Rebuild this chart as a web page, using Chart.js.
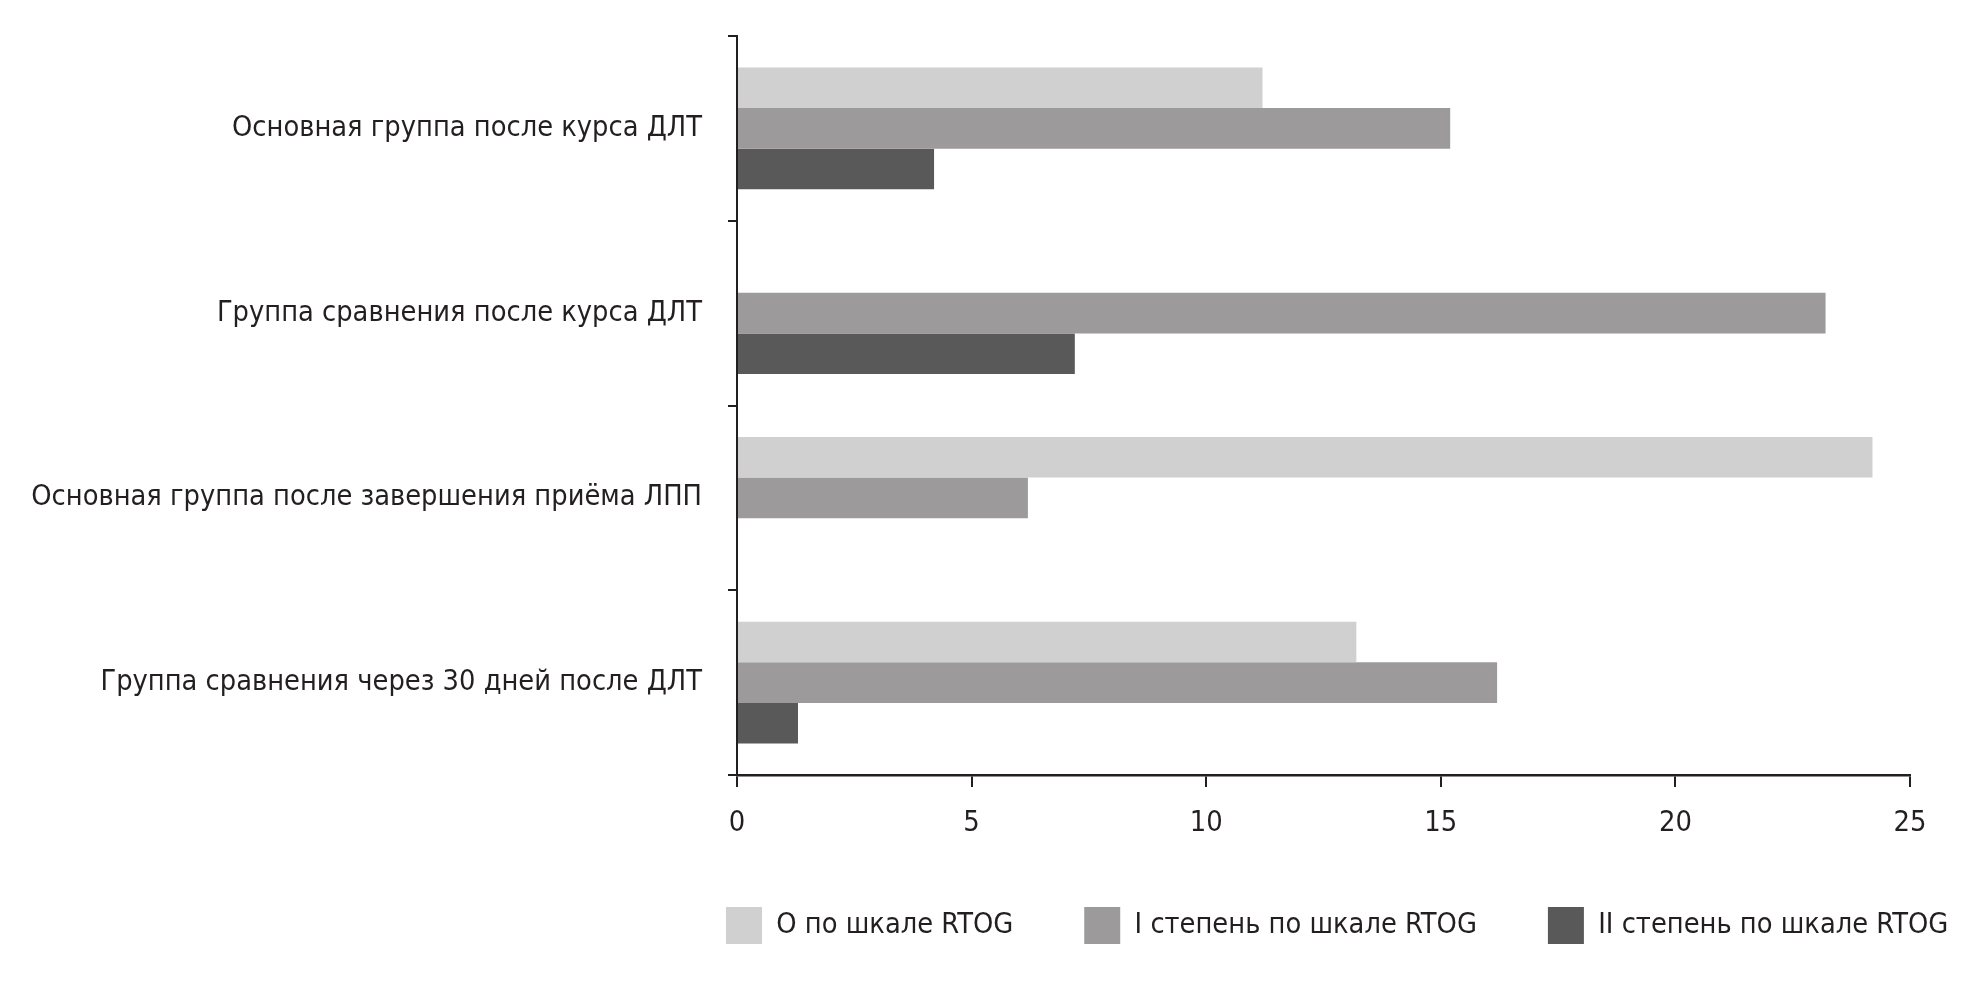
<!DOCTYPE html>
<html>
<head>
<meta charset="utf-8">
<script src="https://cdn.jsdelivr.net/npm/chart.js@4.4.1/dist/chart.umd.min.js"></script>
<style>
  html, body { margin: 0; padding: 0; background: #ffffff; }
  #wrap { width: 1976px; height: 986px; position: relative; }
</style>
</head>
<body>
<div id="wrap"><canvas id="c" width="1976" height="986"></canvas></div>
<script>
const categories = [
  'Основная группа после курса ДЛТ',
  'Группа сравнения после курса ДЛТ',
  'Основная группа после завершения приёма ЛПП',
  'Группа сравнения через 30 дней после ДЛТ'
];
const seriesNames = ['О по шкале RTOG', 'I степень по шкале RTOG', 'II степень по шкале RTOG'];
const grade0 = [11.2, 0, 24.2, 13.2];
const grade1 = [15.2, 23.2, 6.2, 16.2];
const grade2 = [4.2, 7.2, 0, 1.3];
const xTicks = [0, 5, 10, 15, 20, 25];

const FONT = "'Noto Sans ExtraCondensed', 'Noto Sans Condensed', 'DejaVu Sans Condensed', 'Liberation Sans Narrow', 'Roboto Condensed', 'Noto Sans', sans-serif";
const INK = '#231f20';
const colors = ['#d0d0d0', '#9c9a9a', '#595959'];

// size fonts so that text widths match the original layout
const mctx = document.createElement('canvas').getContext('2d');
function fitSize(texts, target) {
  mctx.font = '100px ' + FONT;
  const w = texts.reduce((s, t) => s + mctx.measureText(t).width, 0);
  return Math.round(100 * target / w * 10) / 10;
}
const labelSize = Math.min(46, fitSize([categories[2]], 672));
const legendSize = Math.min(46, fitSize(seriesNames, 930));
const tickSize = Math.min(44, fitSize(['10', '15', '20', '25'], 4 * 33));

const CHART_BOTTOM = 775;
const BOX_H = 37;
const BOX_TOP = 907;
const LEG_PAD = 71;
const LEG_FIRST_BOX = 726;
const itemH = Math.max(legendSize, BOX_H);
const legendTop = BOX_TOP - LEG_PAD - Math.max((legendSize - BOX_H) / 2, 0);
const legendNatural = itemH + LEG_PAD + 10;
const padBottom = Math.max(0, 986 - legendTop - legendNatural);
const xAxisHeight = legendTop - CHART_BOTTOM;

const legendPlace = {
  id: 'legendPlace',
  afterLayout(chart) {
    const lg = chart.legend;
    if (lg) { lg.left = LEG_FIRST_BOX - LEG_PAD; lg.right = 2600; }
    const xs = chart.scales.x;
    if (xs) { xs.bottom = chart.height; }
  }
};

new Chart(document.getElementById('c'), {
  type: 'bar',
  data: {
    labels: categories,
    datasets: [grade0, grade1, grade2].map((d, i) => ({
      label: seriesNames[i],
      data: d,
      backgroundColor: colors[i],
      borderWidth: 0,
      categoryPercentage: 0.66,
      barPercentage: 1.0
    }))
  },
  options: {
    indexAxis: 'y',
    responsive: false,
    animation: false,
    layout: { padding: { top: 36, left: 0, right: 0, bottom: padBottom } },
    plugins: {
      tooltip: { enabled: false },
      legend: {
        position: 'bottom',
        align: 'start',
        labels: {
          boxWidth: 36,
          boxHeight: BOX_H,
          padding: LEG_PAD,
          color: INK,
          font: { family: FONT, size: legendSize }
        }
      }
    },
    scales: {
      x: {
        type: 'linear',
        min: 0,
        max: 25,
        afterBuildTicks(scale) { scale.ticks = xTicks.map(v => ({ value: v })); },
        afterFit(scale) { scale.height = xAxisHeight; scale.paddingRight = 66; },
        border: { display: true, color: INK, width: 2.5 },
        grid: { drawOnChartArea: false, drawTicks: true, tickLength: 12, color: INK, lineWidth: 2 },
        ticks: { color: INK, padding: Math.max(2, 47 - 12 - 0.53 * tickSize), font: { family: FONT, size: tickSize } }
      },
      y: {
        afterFit(scale) { scale.width = 737; scale.paddingTop = 0; scale.paddingBottom = 0; },
        border: { display: true, color: INK, width: 2 },
        grid: { drawOnChartArea: false, drawTicks: true, tickLength: 9, color: INK, lineWidth: 2, offset: true },
        ticks: { color: INK, padding: 26, font: { family: FONT, size: labelSize } }
      }
    }
  },
  plugins: [legendPlace]
});
</script>
</body>
</html>
